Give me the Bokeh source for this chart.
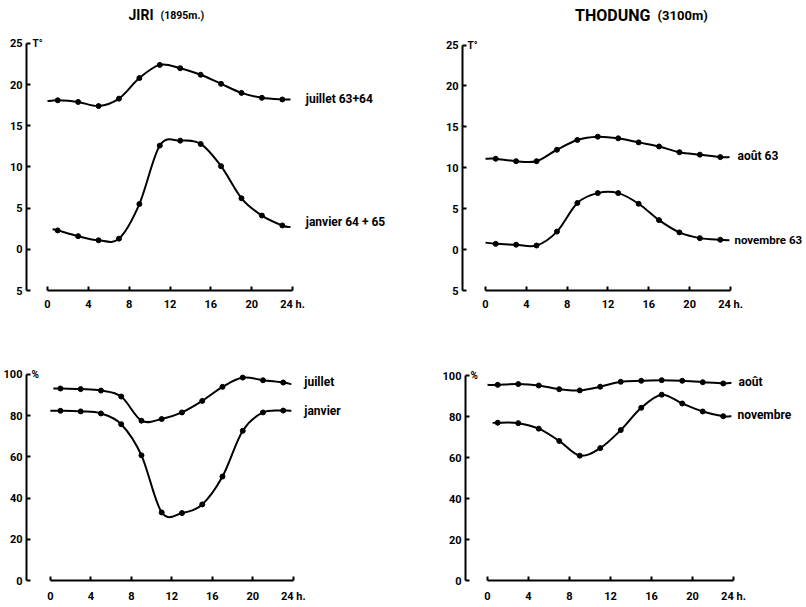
import numpy as np
from bokeh.plotting import figure
from bokeh.models import Range1d, FixedTicker
from bokeh.layouts import column, row
from bokeh.core.properties import value
from bokeh.embed import file_html
from bokeh.resources import INLINE

# ---------------- data ----------------
hours = [1, 3, 5, 7, 9, 11, 13, 15, 17, 19, 21, 23]
hour_ticks = [0, 4, 8, 12, 16, 20, 24]
temp_ticks = [-5, 0, 5, 10, 15, 20, 25]
hum_ticks = [0, 20, 40, 60, 80, 100]

# JIRI (1895 m) temperature
jiri_t_juillet = [18.1, 17.9, 17.4, 18.3, 20.8, 22.4, 22.0, 21.2, 20.1, 19.0, 18.4, 18.2]
jiri_t_janvier = [2.3, 1.6, 1.1, 1.3, 5.5, 12.6, 13.2, 12.8, 10.1, 6.2, 4.1, 2.9]
# THODUNG (3100 m) temperature
thod_t_aout = [11.1, 10.8, 10.8, 12.2, 13.4, 13.8, 13.6, 13.1, 12.6, 11.9, 11.6, 11.3]
thod_t_novembre = [0.7, 0.6, 0.5, 2.2, 5.7, 6.9, 6.9, 5.6, 3.6, 2.1, 1.4, 1.2]
# JIRI relative humidity
jiri_h_juillet = [93.1, 92.8, 92.1, 89.2, 77.5, 78.3, 81.5, 87.1, 93.9, 98.4, 97.1, 96.0]
jiri_h_janvier = [82.3, 82.0, 81.0, 75.8, 60.7, 33.0, 32.7, 36.9, 50.4, 72.6, 81.5, 82.4]
# THODUNG relative humidity
thod_h_aout = [95.6, 96.0, 95.3, 93.5, 92.9, 94.7, 97.1, 97.6, 97.9, 97.6, 96.9, 96.3]
thod_h_novembre = [77.1, 76.9, 74.2, 68.2, 61.0, 64.7, 73.5, 84.4, 90.8, 86.5, 82.6, 80.3]

# where each drawn curve begins and ends (hour, value)
jiri_t_juillet_ends = [(0.0, 18.0), (23.8, 18.2)]
jiri_t_janvier_ends = [(0.5, 2.45), (23.8, 2.7)]
thod_t_aout_ends = [(0.0, 11.1), (23.9, 11.3)]
thod_t_novembre_ends = [(0.0, 0.85), (23.9, 1.15)]
jiri_h_juillet_ends = [(0.3, 93.1), (23.8, 95.2)]
jiri_h_janvier_ends = [(0.0, 82.3), (23.8, 82.3)]
thod_h_aout_ends = [(0.0, 95.6), (23.8, 96.6)]
thod_h_novembre_ends = [(0.5, 77.0), (23.8, 80.3)]

FONT = "Roboto"


def make_fig(width, height, bl, bb, xr, yr, ylabel_ticks, ybounds, overrides, xstand):
    p = figure(width=width, height=height, x_range=Range1d(*xr), y_range=Range1d(*yr),
               output_backend="svg", toolbar_location=None,
               min_border_left=bl, min_border_right=0, min_border_top=0, min_border_bottom=bb)
    p.grid.visible = False
    p.outline_line_color = None
    p.background_fill_color = "white"
    p.border_fill_color = "white"
    for ax in (p.xaxis[0], p.yaxis[0]):
        ax.axis_line_width = 2
        ax.axis_line_color = "black"
        ax.major_tick_line_width = 2
        ax.major_tick_line_color = "black"
        ax.major_tick_in = 4
        ax.major_tick_out = 0
        ax.minor_tick_in = 0
        ax.minor_tick_out = 0
        ax.major_label_text_font = FONT
        ax.major_label_text_font_style = "bold"
        ax.major_label_text_font_size = "11px"
        ax.major_label_text_color = "black"
    p.xaxis.ticker = FixedTicker(ticks=hour_ticks)
    p.xaxis.bounds = (0, 24)
    p.xaxis.major_label_overrides = {24: "24 h."}
    p.xaxis.major_label_standoff = xstand
    p.yaxis.ticker = FixedTicker(ticks=ylabel_ticks)
    p.yaxis.bounds = ybounds
    p.yaxis.major_label_standoff = 4
    p.yaxis.major_label_overrides = overrides
    return p


def curve(p, vals, ends):
    xs = np.array([ends[0][0]] + hours + [ends[1][0]], dtype=float)
    ys = np.array([ends[0][1]] + vals + [ends[1][1]], dtype=float)
    n = len(xs)
    x0, y0, x1, y1, cx0, cy0, cx1, cy1 = ([] for _ in range(8))
    for i in range(n - 1):
        a = max(i - 1, 0)
        d = min(i + 2, n - 1)
        x0.append(xs[i]); y0.append(ys[i])
        x1.append(xs[i + 1]); y1.append(ys[i + 1])
        cx0.append(xs[i] + (xs[i + 1] - xs[a]) / 6.0)
        cy0.append(ys[i] + (ys[i + 1] - ys[a]) / 6.0)
        cx1.append(xs[i + 1] - (xs[d] - xs[i]) / 6.0)
        cy1.append(ys[i + 1] - (ys[d] - ys[i]) / 6.0)
    p.bezier(x0=x0, y0=y0, x1=x1, y1=y1, cx0=cx0, cy0=cy0, cx1=cx1, cy1=cy1,
             line_color="black", line_width=2)
    p.scatter(hours, vals, size=5, marker="circle", color="black")


def label(p, x, y, txt, size="12px", align="left"):
    p.text(x=[x], y=[y], text=[txt], text_font=value(FONT), text_font_style="bold",
           text_font_size=size, text_align=align, text_baseline="middle", text_color="black")


# ---------------- top-left: JIRI temperature ----------------
tl = make_fig(398, 313, 26, 21, (-2.057, 34.38), (-5, 30.22), temp_ticks, (-5, 25), {-5: "5"}, 7)
curve(tl, jiri_t_juillet, jiri_t_juillet_ends)
curve(tl, jiri_t_janvier, jiri_t_janvier_ends)
label(tl, 25.3, 18.3, "juillet 63+64")
label(tl, 25.3, 3.35, "janvier 64 + 65")
label(tl, -1.47, 25, "T°", size="10px")
label(tl, 10.38, 28.41, "JIRI", size="14px", align="right")
label(tl, 11.07, 28.41, "(1895m.)", size="10.5px")

# ---------------- top-right: THODUNG temperature ----------------
tr = make_fig(406, 313, 64, 20, (-2.253, 31.25), (-5, 30.44), temp_ticks, (-5, 25), {-5: "5"}, 7)
curve(tr, thod_t_aout, thod_t_aout_ends)
curve(tr, thod_t_novembre, thod_t_novembre_ends)
label(tr, 24.69, 11.45, "août 63")
label(tr, 24.39, 1.17, "novembre 63", size="11.5px")
label(tr, -1.76, 25, "T°", size="10px")
label(tr, 16.16, 28.63, "THODUNG", size="16px", align="right")
label(tr, 16.85, 28.63, "(3100m)", size="13px")

# ---------------- bottom-left: JIRI humidity ----------------
bl = make_fig(398, 292, 23, 24, (-2.351, 34.38), (0, 129.47), hum_ticks, (0, 100), {}, 9)
curve(bl, jiri_h_juillet, jiri_h_juillet_ends)
curve(bl, jiri_h_janvier, jiri_h_janvier_ends)
label(bl, 25.08, 96.1, "juillet")
label(bl, 25.08, 82.1, "janvier")
label(bl, -1.86, 100, "%", size="10px")

# ---------------- bottom-right: THODUNG humidity ----------------
br = make_fig(406, 292, 67, 22, (-2.146, 30.93), (0, 130.48), hum_ticks, (0, 100), {}, 9)
curve(br, thod_h_aout, thod_h_aout_ends)
curve(br, thod_h_novembre, thod_h_novembre_ends)
label(br, 24.49, 97.1, "août")
label(br, 24.39, 80.7, "novembre")
label(br, -1.67, 100, "%", size="10px")

layout = column(row(tl, tr), row(bl, br))
open("out.html", "w").write(file_html(layout, INLINE))
